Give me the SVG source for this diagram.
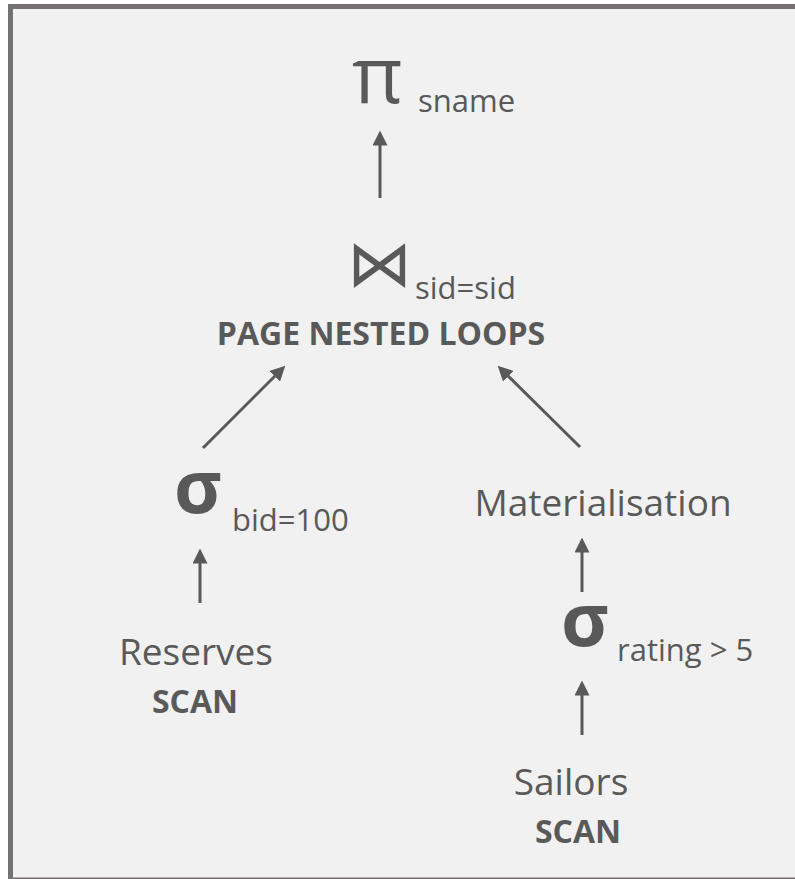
<svg xmlns="http://www.w3.org/2000/svg" width="795" height="879" viewBox="0 0 795 879">
<defs>
<style>
.t{font-family:"Open Sans","Noto Sans",sans-serif;fill:#595959}
.s{font-size:31px}
.l{font-size:37px}
.b{font-family:"Open Sans","Noto Sans",sans-serif;font-weight:bold;fill:#595959;font-size:32px}
.sym{font-family:"Open Sans","DejaVu Sans",sans-serif;fill:#595959}
.c{stroke:#595959;stroke-width:3;fill:none;marker-end:url(#ah)}
</style>
<marker id="ah" viewBox="0 0 10 10" refX="5" refY="5" markerWidth="5" markerHeight="5" orient="auto" markerUnits="strokeWidth">
<path d="M0,0 L10,5 L0,10 z" fill="#595959"/>
</marker>
</defs>
<rect x="10.5" y="6.5" width="800" height="873.5" fill="#f1f1f1" stroke="#757170" stroke-width="5"/>
<g id="connectors">
<line class="c" x1="380" y1="198" x2="380" y2="138"/>
<line class="c" x1="203" y1="448" x2="280" y2="371"/>
<line class="c" x1="580" y1="447" x2="503" y2="371"/>
<line class="c" x1="200" y1="603" x2="200" y2="556"/>
<line class="c" x1="582" y1="592" x2="582" y2="545"/>
<line class="c" x1="582" y1="735" x2="582" y2="688"/>
</g>
<g id="project">
<text class="sym" x="352" y="103" font-size="78">π</text>
<text class="t s" x="418" y="112">sname</text>
</g>
<g id="join">
<text class="sym" x="347" y="286" font-size="65" font-family="DejaVu Sans">⋈</text>
<text class="t s" x="415" y="299">sid=sid</text>
<text class="b" x="381" y="345" text-anchor="middle">PAGE NESTED LOOPS</text>
</g>
<g id="select-bid">
<text class="sym" x="174" y="513" font-size="73" font-weight="bold">σ</text>
<text class="t s" x="232" y="531">bid=100</text>
</g>
<g id="reserves">
<text class="t l" x="196" y="665" text-anchor="middle">Reserves</text>
<text class="b" x="195" y="713" text-anchor="middle">SCAN</text>
</g>
<g id="materialisation">
<text class="t l" x="603" y="516" text-anchor="middle">Materialisation</text>
</g>
<g id="select-rating">
<text class="sym" x="561" y="646" font-size="73" font-weight="bold">σ</text>
<text class="t s" x="617" y="661">rating &gt; 5</text>
</g>
<g id="sailors">
<text class="t l" x="571" y="795" text-anchor="middle">Sailors</text>
<text class="b" x="578" y="843" text-anchor="middle">SCAN</text>
</g>
</svg>
